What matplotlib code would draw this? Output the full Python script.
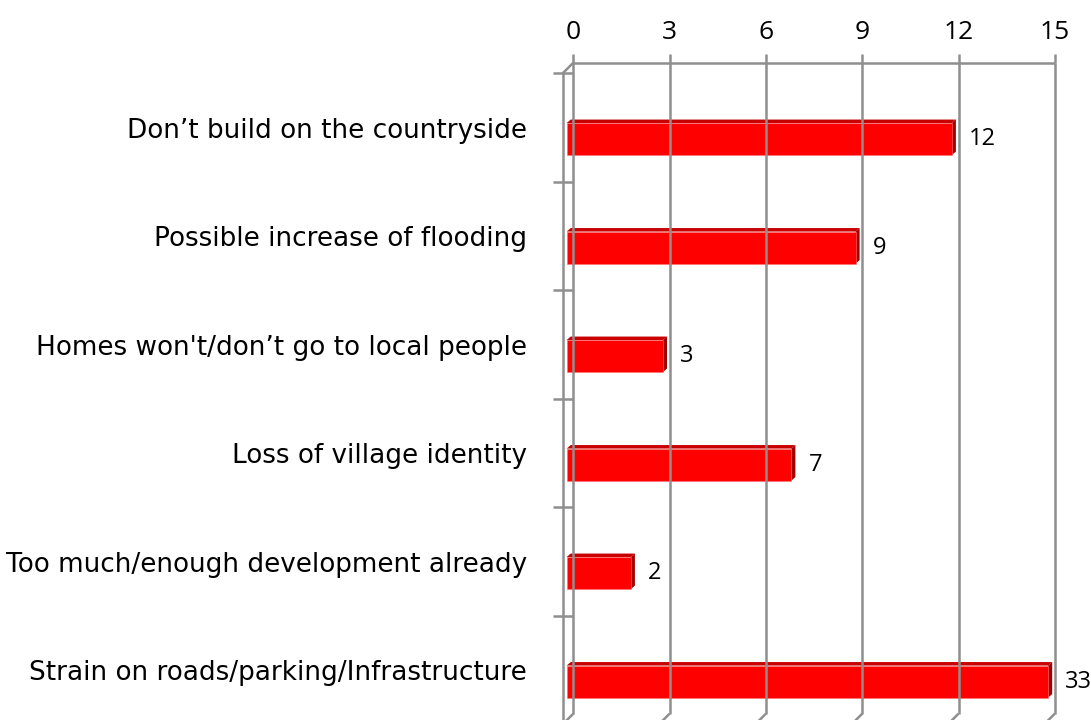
import numpy as np
import matplotlib
matplotlib.use("Agg")
import matplotlib.pyplot as plt
from matplotlib.patches import Polygon

categories = [
    "Don\u2019t build on the countryside",
    "Possible increase of flooding",
    "Homes won't/don\u2019t go to local people",
    "Loss of village identity",
    "Too much/enough development already",
    "Strain on roads/parking/Infrastructure",
]
counts = [12, 9, 3, 7, 2, 33]
x_ticks = [0, 3, 6, 9, 12, 15]

W, H = 1091, 720
fig = plt.figure(figsize=(W / 100, H / 100), dpi=100)

# front wall of the 3-D box, in pixels
left_px, top_px, unit_px, band_px = 562.7, 73.3, 32.1, 108.5
x_max = x_ticks[-1]
n = len(categories)
ax = fig.add_axes([left_px / W, 1 - (top_px + n * band_px) / H,
                   x_max * unit_px / W, n * band_px / H])
ax.set_xlim(0, x_max)
ax.set_ylim(n - 0.5, -0.5)
ax.axis("off")

sx, sy = 1 / unit_px, 1 / band_px          # data units per pixel
back_dx, back_dy = 10.6 * sx, -10.6 * sy    # depth of the back wall
y_top, y_bot = -0.5, n - 0.5

grid_kw = dict(color="#8f8f8f", lw=1.8, clip_on=False, solid_capstyle="butt")

# back wall gridlines, top ticks, floor lines and value axis labels
for t in x_ticks:
    ax.plot([t + back_dx] * 2, [y_top + back_dy, y_bot + back_dy], **grid_kw)
    ax.plot([t + back_dx] * 2, [y_top + back_dy - 9 * sy, y_top + back_dy], **grid_kw)
    ax.plot([t, t + back_dx], [y_bot, y_bot + back_dy], **grid_kw)
    ax.annotate(str(t), (t + back_dx, y_top + back_dy), xytext=(0, 24),
                textcoords="offset pixels", ha="center", va="baseline",
                fontsize=19, family="Open Sans", annotation_clip=False)
ax.plot([back_dx, x_max + back_dx], [y_top + back_dy] * 2, **grid_kw)

# front category axis with its tick marks
ax.plot([0, 0], [y_top, y_bot], **grid_kw)
ax.plot([0, back_dx], [y_top, y_top + back_dy], **grid_kw)
for b in np.arange(n + 1) - 0.5:
    ax.plot([-10 * sx, back_dx], [b, b], **grid_kw)

# bars: front face plus darker top and side faces
bar_dx, bar_dy = 4 * sx, 11.5 * sy
bar_h = 32 * sy
d_dx, d_dy = 4 * sx, -3.5 * sy
lengths = np.minimum(counts, x_max)
ys = np.arange(n) + bar_dy

for y, L in zip(ys, lengths):
    x0, x1 = bar_dx, bar_dx + L
    yt, yb = y - bar_h / 2, y + bar_h / 2
    ax.add_patch(Polygon([(x0, yt), (x1, yt), (x1 + d_dx, yt + d_dy), (x0 + d_dx, yt + d_dy)],
                         closed=True, facecolor="#c80000", edgecolor="none", clip_on=False))
    ax.add_patch(Polygon([(x1, yt), (x1 + d_dx, yt + d_dy), (x1 + d_dx, yb + d_dy), (x1, yb)],
                         closed=True, facecolor="#a00000", edgecolor="none", clip_on=False))
ax.barh(ys, lengths, height=bar_h, left=bar_dx, color="#ff0000",
        edgecolor="#ff7070", linewidth=0.4, clip_on=False)

for y, L, v in zip(ys, lengths, counts):
    ax.annotate(str(v), (bar_dx + L, y), xytext=(17, 0), textcoords="offset pixels",
                ha="left", va="center", fontsize=17, family="Open Sans",
                annotation_clip=False)

# category labels
for i, cat in enumerate(categories):
    ax.annotate(cat, (0, i + 10 * sy), xytext=(-35.7, 0), textcoords="offset pixels",
                ha="right", va="baseline", fontsize=18.9, family="DejaVu Sans",
                annotation_clip=False)

fig.savefig("out.png", dpi=100)
